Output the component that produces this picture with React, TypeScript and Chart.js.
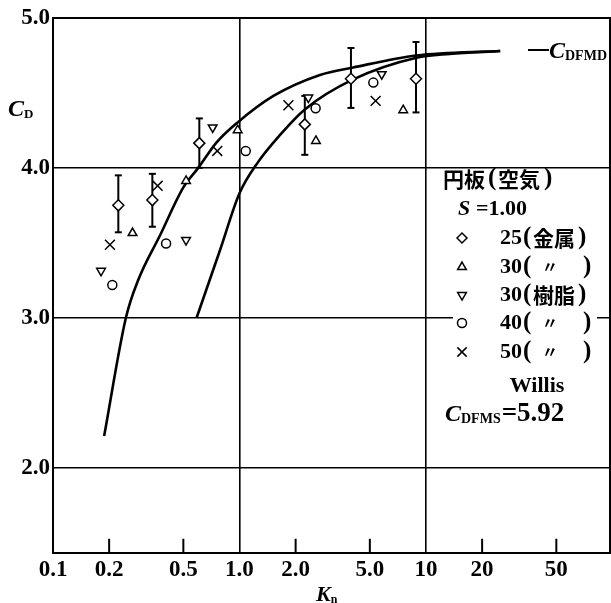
import React, { useEffect, useRef } from "react";
import { Chart, registerables } from "chart.js";
Chart.register(...registerables);

// ---- axes ----
const xMin = 0.1;
const xMax = 97;
const yMin = 1.43;
const yMax = 5.0;
const xTickValues = [0.1, 0.2, 0.5, 1, 2, 5, 10, 20, 50];
const xTickLabels = ["0.1", "0.2", "0.5", "1.0", "2.0", "5.0", "10", "20", "50"];
const xGridValues = [1, 10];
const xMinorTicks = [0.2, 0.5, 2, 5, 20, 50];
const yTickValues = [2, 3, 4, 5];
const yTickLabels = ["2.0", "3.0", "4.0", "5.0"];

// ---- measured series ----
const metal25X = [0.224, 0.341, 0.609, 2.24, 3.96, 8.84];
const metal25Y = [3.75, 3.785, 4.165, 4.29, 4.595, 4.595];
const metal25Low = [3.57, 3.607, 4.0, 4.087, 4.4, 4.37];
const metal25High = [3.95, 3.96, 4.33, 4.48, 4.8, 4.84];

const metal30X = [0.267, 0.517, 0.978, 2.57, 7.55];
const metal30Y = [3.565, 3.913, 4.251, 4.18, 4.385];

const resin30X = [0.181, 0.517, 0.718, 2.34, 5.79];
const resin30Y = [3.313, 3.518, 4.27, 4.469, 4.625];

const resin40X = [0.208, 0.404, 1.08, 2.56, 5.22];
const resin40Y = [3.218, 3.495, 4.113, 4.398, 4.569];

const resin50X = [0.202, 0.364, 0.76, 1.83, 5.37];
const resin50Y = [3.487, 3.88, 4.113, 4.418, 4.447];

// ---- curves ----
const upperX = [0.188, 0.246, 0.286, 0.375, 0.5, 0.601, 0.754, 0.97, 1.52, 2.7, 4.07, 8.9, 25];
const upperY = [2.21, 3.0, 3.25, 3.55, 3.87, 4.0, 4.17, 4.3, 4.48, 4.62, 4.67, 4.75, 4.78];
const lowerX = [0.589, 0.786, 1.0, 1.26, 1.65, 2.24, 4.07, 8.9, 13.4, 25];
const lowerY = [3.0, 3.45, 3.83, 4.04, 4.22, 4.39, 4.59, 4.735, 4.76, 4.78];

const zip = (xs: number[], ys: number[]) => xs.map((x, i) => ({ x, y: ys[i] }));

const SERIF = '"Liberation Serif", "Noto Sans CJK JP", serif';
const CJK = '"Noto Sans CJK JP", sans-serif';

function drawSub(
  ctx: CanvasRenderingContext2D,
  x: number,
  y: number,
  main: string,
  sub: string,
  mainSize: number,
  subSize: number,
  rest?: string,
  restSize?: number
) {
  ctx.textBaseline = "alphabetic";
  ctx.textAlign = "left";
  ctx.font = `italic bold ${mainSize}px ${SERIF}`;
  ctx.fillText(main, x, y);
  let cx = x + ctx.measureText(main).width;
  ctx.font = `bold ${subSize}px ${SERIF}`;
  ctx.fillText(sub, cx, y + 2);
  cx += ctx.measureText(sub).width;
  if (rest) {
    ctx.font = `bold ${restSize || mainSize}px ${SERIF}`;
    ctx.fillText(rest, cx + 1, y);
  }
}

function drawMarker(ctx: CanvasRenderingContext2D, style: string, r: number, rot: number, x: number, y: number) {
  ctx.beginPath();
  if (style === "rectRot") {
    ctx.moveTo(x - r, y);
    ctx.lineTo(x, y - r);
    ctx.lineTo(x + r, y);
    ctx.lineTo(x, y + r);
    ctx.closePath();
    ctx.fill();
    ctx.stroke();
  } else if (style === "triangle") {
    const s = rot === 180 ? -1 : 1;
    ctx.moveTo(x, y - s * r);
    ctx.lineTo(x + r * 0.866, y + s * r * 0.5);
    ctx.lineTo(x - r * 0.866, y + s * r * 0.5);
    ctx.closePath();
    ctx.fill();
    ctx.stroke();
  } else if (style === "circle") {
    ctx.arc(x, y, r, 0, Math.PI * 2);
    ctx.fill();
    ctx.stroke();
  } else {
    const d = r * 0.707;
    ctx.moveTo(x - d, y - d);
    ctx.lineTo(x + d, y + d);
    ctx.moveTo(x + d, y - d);
    ctx.lineTo(x - d, y + d);
    ctx.stroke();
  }
}

const legendRows = [
  { style: "rectRot", rot: 0, r: 5, num: "25", label: "金属", y: 238 },
  { style: "triangle", rot: 0, r: 5, num: "30", label: "", y: 267 },
  { style: "triangle", rot: 180, r: 5, num: "30", label: "樹脂", y: 295 },
  { style: "circle", rot: 0, r: 4.5, num: "40", label: "", y: 323 },
  { style: "crossRot", rot: 0, r: 6.5, num: "50", label: "", y: 352 },
];

const annotations = {
  id: "annotations",
  beforeDatasetsDraw(chart: any) {
    const ctx = chart.ctx as CanvasRenderingContext2D;
    ctx.save();
    ctx.fillStyle = "#fff";
    ctx.fillRect(453, 174, 144, 256);
    ctx.restore();
  },
  afterDraw(chart: any) {
    const ctx = chart.ctx as CanvasRenderingContext2D;
    const a = chart.chartArea;
    ctx.save();
    ctx.strokeStyle = "#000";
    ctx.lineWidth = 2;
    ctx.strokeRect(a.left, a.top, a.right - a.left, a.bottom - a.top);
    ctx.fillStyle = "#000";

    drawSub(ctx, 8, 116, "C", "D", 24, 13);
    drawSub(ctx, 316, 601, "K", "n", 22, 12);

    ctx.lineWidth = 2;
    ctx.beginPath();
    ctx.moveTo(528, 50);
    ctx.lineTo(549, 50);
    ctx.stroke();
    drawSub(ctx, 549, 58, "C", "DFMD", 24, 14);

    ctx.textBaseline = "middle";
    ctx.textAlign = "left";
    ctx.font = `bold 21px ${CJK}`;
    ctx.fillText("円板", 443, 179);
    ctx.fillText("空気", 498, 179);
    ctx.font = `bold 25px ${SERIF}`;
    ctx.fillText("(", 488, 179);
    ctx.fillText(")", 544, 179);
    ctx.font = `italic bold 22px ${SERIF}`;
    ctx.fillText("S", 458, 209);
    ctx.font = `bold 22px ${SERIF}`;
    ctx.fillText("=1.00", 476, 209);

    legendRows.forEach((row) => {
      ctx.save();
      ctx.lineWidth = 1.5;
      ctx.strokeStyle = "#000";
      ctx.fillStyle = "#fff";
      drawMarker(ctx, row.style, row.r, row.rot, 462, row.y);
      ctx.restore();
      ctx.fillStyle = "#000";
      ctx.textBaseline = "middle";
      ctx.font = `bold 22px ${SERIF}`;
      ctx.textAlign = "left";
      ctx.fillText(row.num, 500, row.y);
      ctx.font = `bold 25px ${SERIF}`;
      ctx.fillText("(", 523, row.y);
      ctx.fillText(")", row.label ? 578 : 583, row.y);
      if (row.label) {
        ctx.font = `bold 21px ${CJK}`;
        ctx.fillText(row.label, 533, row.y);
      } else {
        ctx.textAlign = "center";
        ctx.font = `bold 16px ${CJK}`;
        ctx.fillText("〃", 550, row.y);
      }
    });

    ctx.font = `bold 22px ${SERIF}`;
    ctx.textAlign = "center";
    ctx.textBaseline = "middle";
    ctx.fillText("Willis", 537, 386);
    drawSub(ctx, 445, 421, "C", "DFMS", 24, 14, "=5.92", 27);
    ctx.restore();
  },
};

export default function App() {
  const ref = useRef<HTMLCanvasElement | null>(null);
  useEffect(() => {
    if (!ref.current) return;
    const markerBase = {
      type: "scatter" as const,
      showLine: false,
      borderColor: "#000",
      backgroundColor: "#fff",
      pointBorderWidth: 1.5,
    };
    const errorSets = metal25X.map((x, i) => ({
      type: "line" as const,
      data: [
        { x, y: metal25Low[i] },
        { x, y: metal25High[i] },
      ],
      borderColor: "#000",
      borderWidth: 2,
      pointStyle: "line" as const,
      pointRadius: 3.5,
      pointBorderWidth: 2,
      pointBorderColor: "#000",
      order: 5,
    }));
    const minorSets = xMinorTicks.map((x) => ({
      type: "line" as const,
      data: [
        { x, y: yMin },
        { x, y: yMin + 0.095 },
      ],
      borderColor: "#000",
      borderWidth: 2,
      pointRadius: 0,
      order: 6,
    }));
    const curveBase = {
      type: "line" as const,
      borderColor: "#000",
      borderWidth: 2.6,
      pointRadius: 0,
      cubicInterpolationMode: "monotone" as const,
      fill: false,
      order: 4,
    };
    const chart = new Chart(ref.current, {
      type: "scatter",
      data: {
        datasets: [
          { ...curveBase, data: zip(upperX, upperY) },
          { ...curveBase, data: zip(lowerX, lowerY) },
          ...errorSets,
          ...minorSets,
          { ...markerBase, data: zip(metal25X, metal25Y), pointStyle: "rectRot", pointRadius: 5.5, order: 1 },
          { ...markerBase, data: zip(metal30X, metal30Y), pointStyle: "triangle", pointRadius: 5, order: 1 },
          { ...markerBase, data: zip(resin30X, resin30Y), pointStyle: "triangle", rotation: 180, pointRadius: 5, order: 1 },
          { ...markerBase, data: zip(resin40X, resin40Y), pointStyle: "circle", pointRadius: 4.5, order: 1 },
          { ...markerBase, data: zip(resin50X, resin50Y), pointStyle: "crossRot", pointRadius: 7, order: 1 },
        ] as any,
      },
      options: {
        animation: false,
        responsive: false,
        maintainAspectRatio: false,
        layout: { autoPadding: false, padding: { left: 0, right: 1, top: 18, bottom: 0 } },
        plugins: { legend: { display: false }, tooltip: { enabled: false } },
        scales: {
          x: {
            type: "logarithmic",
            min: xMin,
            max: xMax,
            afterBuildTicks: (scale: any) => {
              scale.ticks = xTickValues.map((v) => ({ value: v }));
            },
            afterFit: (scale: any) => {
              scale.height = 50;
              scale.paddingLeft = 0;
              scale.paddingRight = 0;
            },
            ticks: {
              autoSkip: false,
              maxRotation: 0,
              padding: 3,
              color: "#000",
              font: { family: "Liberation Serif", weight: "bold", size: 23 },
              callback: (_v: any, i: number) => xTickLabels[i],
            },
            grid: {
              drawTicks: false,
              lineWidth: 1.6,
              color: (c: any) => (xGridValues.includes(c.tick?.value) ? "#000" : "rgba(0,0,0,0)"),
            },
            border: { display: true, color: "#000", width: 2 },
          },
          y: {
            type: "linear",
            min: yMin,
            max: yMax,
            afterBuildTicks: (scale: any) => {
              scale.ticks = yTickValues.map((v) => ({ value: v }));
            },
            afterFit: (scale: any) => {
              scale.width = 53;
            },
            ticks: {
              padding: 3,
              color: "#000",
              font: { family: "Liberation Serif", weight: "bold", size: 23 },
              callback: (_v: any, i: number) => yTickLabels[i],
            },
            grid: { drawTicks: false, lineWidth: 1.6, color: "#000" },
            border: { display: true, color: "#000", width: 2 },
          },
        },
      },
      plugins: [annotations],
    } as any);
    return () => chart.destroy();
  }, []);
  return (
    <div style={{ position: "fixed", left: 0, top: 0, width: 611, height: 603, background: "#fff" }}>
      <canvas ref={ref} width={611} height={603} style={{ width: 611, height: 603, display: "block" }} />
    </div>
  );
}
